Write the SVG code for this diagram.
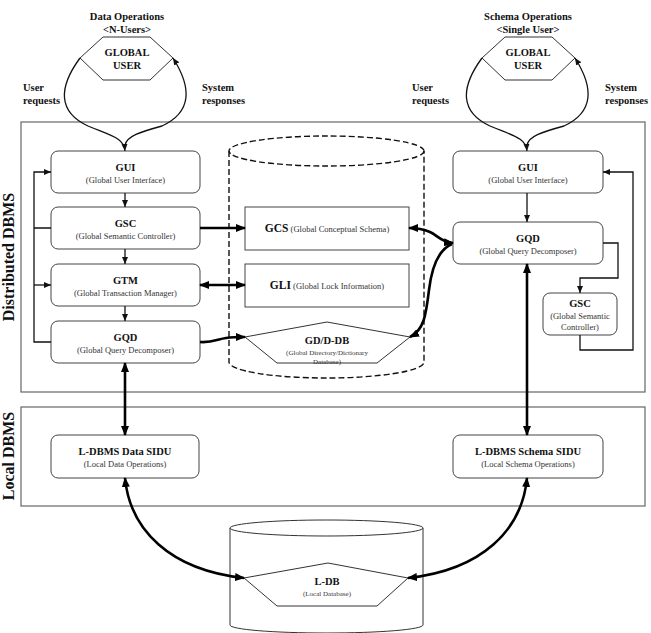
<svg xmlns="http://www.w3.org/2000/svg" width="651" height="633" viewBox="0 0 651 633">
  <style>
    text { font-family: "Liberation Serif", "Times New Roman", serif; fill: #111; }
    .t { font-weight: bold; font-size: 10.5px; text-anchor: middle; }
    .s { font-size: 8.5px; text-anchor: middle; fill: #333; }
    .xs { font-size: 7px; text-anchor: middle; fill: #333; }
    .lbl { font-weight: bold; font-size: 10.5px; }
    .side { font-weight: bold; font-size: 16px; text-anchor: middle; }
    .box { fill: #fff; stroke: #444; stroke-width: 1; }
    .frame { fill: none; stroke: #666; stroke-width: 1.2; }
    .shape { fill: none; stroke: #333; stroke-width: 1; }
    .dash { fill: none; stroke: #111; stroke-width: 1.4; stroke-dasharray: 6 3; }
    .thin { fill: none; stroke: #111; stroke-width: 1.3; }
    .thick { fill: none; stroke: #000; stroke-width: 2.6; }
  </style>
  <defs>
    <marker id="ah" markerUnits="userSpaceOnUse" markerWidth="7" markerHeight="6" refX="7" refY="3" orient="auto-start-reverse">
      <path d="M0,0 L7,3 L0,6 z" fill="#111"/>
    </marker>
    <marker id="AH" markerUnits="userSpaceOnUse" markerWidth="10" markerHeight="8" refX="9" refY="4" orient="auto-start-reverse">
      <path d="M0,0 L10,4 L0,8 z" fill="#000"/>
    </marker>
  </defs>

  <!-- layer frames -->
  <rect class="frame" x="21" y="122" width="624" height="270"/>
  <rect class="frame" x="21" y="407" width="624" height="99"/>
  <text class="side" transform="translate(14,257) rotate(-90)">Distributed DBMS</text>
  <text class="side" transform="translate(14,456) rotate(-90)">Local DBMS</text>

  <!-- global users -->
  <g id="user-data">
    <text class="t" x="127" y="20">Data Operations</text>
    <text class="t" x="127" y="33">&lt;N-Users&gt;</text>
    <polygon class="shape" points="80,58 103,37 150,37 173,58 150,80 103,80"/>
    <text class="t" x="127" y="56">GLOBAL</text>
    <text class="t" x="127" y="69">USER</text>
    <text class="lbl" x="23" y="91">User</text>
    <text class="lbl" x="23" y="104">requests</text>
    <text class="lbl" x="202" y="91">System</text>
    <text class="lbl" x="202" y="104">responses</text>
  </g>
  <g id="user-schema">
    <text class="t" x="528" y="20">Schema Operations</text>
    <text class="t" x="528" y="33">&lt;Single User&gt;</text>
    <polygon class="shape" points="482,58 505,37 552,37 575,58 552,80 505,80"/>
    <text class="t" x="528" y="56">GLOBAL</text>
    <text class="t" x="528" y="69">USER</text>
    <text class="lbl" x="412" y="91">User</text>
    <text class="lbl" x="412" y="104">requests</text>
    <text class="lbl" x="605" y="91">System</text>
    <text class="lbl" x="605" y="104">responses</text>
  </g>

  <!-- central global store -->
  <g id="global-store">
    <ellipse class="dash" cx="326.5" cy="151" rx="97.5" ry="15"/>
    <path class="dash" d="M229,151 V362 A97.5,16 0 0 0 424,362 V151"/>
  </g>
  <g id="gcs">
    <rect class="box" x="245" y="207" width="164" height="43"/>
    <text x="327" y="232" text-anchor="middle"><tspan font-weight="bold" font-size="11.5px">GCS</tspan><tspan font-size="8.5px" fill="#333"> (Global Conceptual Schema)</tspan></text>
  </g>
  <g id="gli">
    <rect class="box" x="245" y="264" width="164" height="43"/>
    <text x="327" y="289" text-anchor="middle"><tspan font-weight="bold" font-size="11.5px">GLI</tspan><tspan font-size="8.5px" fill="#333"> (Global Lock Information)</tspan></text>
  </g>
  <g id="gd-ddb">
    <polygon class="shape" points="245,337 327,322 410,337 377,363 277,363"/>
    <text class="t" x="327" y="344" font-size="11px">GD/D-DB</text>
    <text class="xs" x="327" y="354.5">(Global Directory/Dictionary</text>
    <text class="xs" x="327" y="364">Database)</text>
  </g>

  <!-- data side modules -->
  <g id="gui-data">
    <rect class="box" x="51" y="151" width="149" height="42" rx="7"/>
    <text class="t" x="125.5" y="171">GUI</text>
    <text class="s" x="125.5" y="183">(Global User Interface)</text>
  </g>
  <g id="gsc-data">
    <rect class="box" x="51" y="207" width="149" height="42" rx="7"/>
    <text class="t" x="125.5" y="227">GSC</text>
    <text class="s" x="125.5" y="239">(Global Semantic Controller)</text>
  </g>
  <g id="gtm">
    <rect class="box" x="51" y="264" width="149" height="42" rx="7"/>
    <text class="t" x="125.5" y="284">GTM</text>
    <text class="s" x="125.5" y="296">(Global Transaction Manager)</text>
  </g>
  <g id="gqd-data">
    <rect class="box" x="51" y="321" width="149" height="42" rx="7"/>
    <text class="t" x="125.5" y="341">GQD</text>
    <text class="s" x="125.5" y="353">(Global Query Decomposer)</text>
  </g>

  <!-- schema side modules -->
  <g id="gui-schema">
    <rect class="box" x="453" y="151" width="150" height="42" rx="7"/>
    <text class="t" x="528" y="171">GUI</text>
    <text class="s" x="528" y="183">(Global User Interface)</text>
  </g>
  <g id="gqd-schema">
    <rect class="box" x="453" y="222" width="150" height="42" rx="7"/>
    <text class="t" x="528" y="242">GQD</text>
    <text class="s" x="528" y="254">(Global Query Decomposer)</text>
  </g>
  <g id="gsc-schema">
    <rect class="box" x="543" y="293" width="74" height="42" rx="7"/>
    <text class="t" x="580" y="307">GSC</text>
    <text class="s" x="580" y="319">(Global Semantic</text>
    <text class="s" x="580" y="330">Controller)</text>
  </g>

  <!-- local modules -->
  <g id="ldbms-data">
    <rect class="box" x="51" y="435" width="148" height="43" rx="7"/>
    <text class="t" x="125" y="455" font-size="10px">L-DBMS Data SIDU</text>
    <text class="s" x="125" y="467">(Local Data Operations)</text>
  </g>
  <g id="ldbms-schema">
    <rect class="box" x="453" y="435" width="150" height="43" rx="7"/>
    <text class="t" x="528" y="455" font-size="10px">L-DBMS Schema SIDU</text>
    <text class="s" x="528" y="467">(Local Schema Operations)</text>
  </g>
  <g id="ldb">
    <ellipse class="shape" cx="326.5" cy="528" rx="96.5" ry="8"/>
    <path class="shape" d="M230,528 V625 A96.5,8 0 0 0 423,625 V528"/>
    <polygon class="shape" points="244,578 328,563 408,578 377,606 277,606"/>
    <text class="t" x="327" y="585" font-size="11px">L-DB</text>
    <text class="xs" x="327" y="596">(Local Database)</text>
  </g>

  <!-- connectors -->
  <g id="connectors">
    <!-- user request / response loops -->
    <path class="thin" d="M80,58 C58,88 58,112 88,126 C112,136 124,138 125,151" marker-end="url(#ah)"/>
    <path class="thin" d="M125,145 C127,136 140,132 162,126 C192,112 192,88 173,58" marker-end="url(#ah)"/>
    <path class="thin" d="M482,58 C460,88 460,112 490,126 C514,136 526,138 527,151" marker-end="url(#ah)"/>
    <path class="thin" d="M527,145 C529,136 542,132 564,126 C594,112 594,88 575,58" marker-end="url(#ah)"/>

    <!-- data side flow -->
    <path class="thin" d="M125,193 V207" marker-end="url(#ah)"/>
    <path class="thin" d="M125,249 V264" marker-end="url(#ah)"/>
    <path class="thin" d="M125,306 V321" marker-end="url(#ah)"/>
    <path class="thin" d="M51,228 H34 M51,342 H34 V172 H51" marker-end="url(#ah)"/>
    <path class="thin" d="M34,285 H51" marker-end="url(#ah)"/>

    <!-- schema side flow -->
    <path class="thin" d="M527,193 V222" marker-end="url(#ah)"/>
    <path class="thin" d="M603,243 H618 V278 H580 V293" marker-end="url(#ah)"/>
    <path class="thin" d="M580,335 V350 H633 V172 H603" marker-end="url(#ah)"/>

    <!-- access to the global store -->
    <path class="thick" d="M200,228 H245" marker-end="url(#AH)"/>
    <path class="thick" d="M200,285 H245" marker-start="url(#AH)" marker-end="url(#AH)"/>
    <path class="thick" d="M200,342 C212,343 218,339 226,338 C233,337 238,337 245,337" marker-end="url(#AH)"/>
    <path class="thick" d="M453,243 C441,242 437,235 430,232 C423,229 418,228 409,228" marker-start="url(#AH)" marker-end="url(#AH)"/>
    <path class="thick" d="M452,244 C440,249 432,265 429,290 C426,315 424,330 410,337" marker-end="url(#AH)"/>

    <!-- global to local -->
    <path class="thick" d="M125,363 V435" marker-start="url(#AH)" marker-end="url(#AH)"/>
    <path class="thick" d="M527,264 V435" marker-start="url(#AH)" marker-end="url(#AH)"/>
    <path class="thick" d="M125,478 C130,530 170,570 244,578" marker-start="url(#AH)" marker-end="url(#AH)"/>
    <path class="thick" d="M527,478 C522,530 482,570 408,578" marker-start="url(#AH)" marker-end="url(#AH)"/>
  </g>
</svg>
